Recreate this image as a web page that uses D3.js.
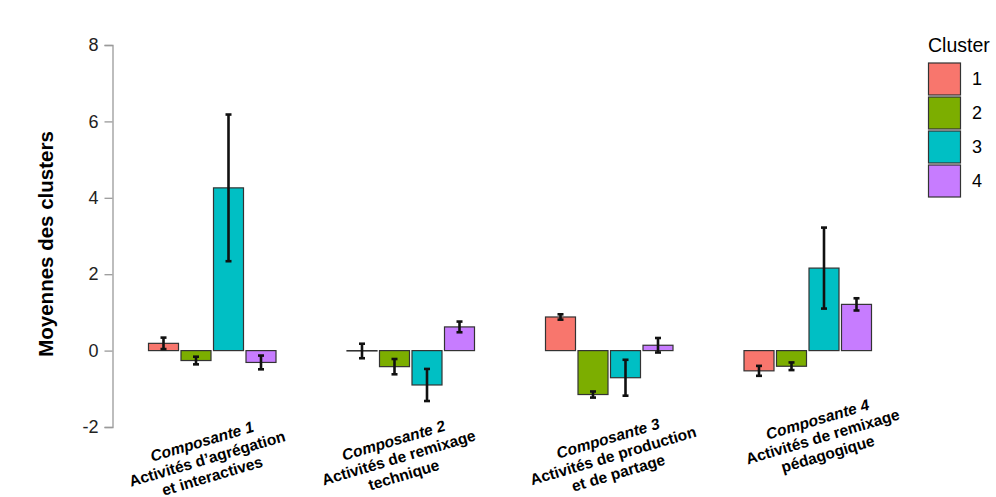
<!DOCTYPE html>
<html>
<head>
<meta charset="utf-8">
<script src="https://cdn.jsdelivr.net/npm/d3@7"></script>
<style>
  html, body { margin: 0; padding: 0; background: #fff; }
  svg { display: block; font-family: "Liberation Sans", Arial, Helvetica, sans-serif; }
</style>
</head>
<body>
<svg id="chart" width="996" height="497"></svg>
<script>
// Component labels: italic title line, then description lines
const componentTitles = ["Composante 1", "Composante 2", "Composante 3", "Composante 4"];
const componentDescriptions = [
  ["Activités d\u2019agrégation", "et interactives"],
  ["Activités de remixage", "technique"],
  ["Activités de production", "et de partage"],
  ["Activités de remixage", "pédagogique"]
];
const clusters = ["1", "2", "3", "4"];
const clusterColors = ["#F8766D", "#7CAE00", "#00BFC4", "#C77CFF"];

// Cluster means per component (rows: components, columns: clusters 1-4)
const means = [
  [0.19, -0.26, 4.26, -0.31],
  [-0.01, -0.42, -0.90, 0.62],
  [0.88, -1.15, -0.71, 0.14],
  [-0.53, -0.41, 2.16, 1.21]
];
// Half-width of the error bars
const errors = [
  [0.15, 0.10, 1.92, 0.18],
  [0.19, 0.20, 0.42, 0.14],
  [0.07, 0.08, 0.47, 0.19],
  [0.13, 0.10, 1.06, 0.16]
];
const yTicks = [-2, 0, 2, 4, 6, 8];
const yTitle = "Moyennes des clusters";
const legendTitle = "Cluster";

const svg = d3.select("#chart");

const x = d3.scaleBand().domain(componentTitles).range([113, 907]).padding(0);
const inner = d3.scaleBand().domain(clusters).range([-65, 65]).padding(0);
const barW = 30;
const y = d3.scaleLinear().domain([-2, 8]).range([427, 45]);

// Y axis
const yAxis = svg.append("g")
  .attr("transform", "translate(112.5,0)")
  .call(d3.axisLeft(y).tickValues(yTicks).tickSize(8).tickPadding(6).tickFormat(d3.format("d")));
yAxis.select(".domain").attr("stroke", "#9a9a9a").attr("stroke-width", 1.3);
yAxis.selectAll(".tick line").attr("stroke", "#9a9a9a").attr("stroke-width", 1.3);
yAxis.selectAll(".tick text").attr("fill", "#222").attr("font-size", 18)
  .text(d => d < 0 ? "-" + Math.abs(d) : d);

svg.append("text")
  .attr("transform", "translate(53,244) rotate(-90)")
  .attr("text-anchor", "middle")
  .attr("font-weight", "bold")
  .attr("font-size", 20.5)
  .attr("fill", "#000")
  .text(yTitle);

// Bars
const rows = [];
componentTitles.forEach((c, i) => {
  clusters.forEach((k, j) => {
    rows.push({ comp: c, cluster: k, j, mean: means[i][j], err: errors[i][j] });
  });
});

const cx = d => x(d.comp) + x.bandwidth() / 2 + inner(d.cluster) + inner.bandwidth() / 2;

svg.append("g").selectAll("rect").data(rows).join("rect")
  .attr("x", d => cx(d) - barW / 2)
  .attr("width", barW)
  .attr("y", d => y(Math.max(0, d.mean)))
  .attr("height", d => Math.abs(y(d.mean) - y(0)))
  .attr("fill", d => clusterColors[d.j])
  .attr("stroke", "#333")
  .attr("stroke-width", 1.2);

// Error bars
const eb = svg.append("g").attr("stroke", "#111").attr("stroke-width", 2.6).attr("fill", "none");
eb.selectAll("line.v").data(rows).join("line").attr("class", "v")
  .attr("x1", cx).attr("x2", cx)
  .attr("y1", d => y(d.mean + d.err)).attr("y2", d => y(d.mean - d.err));
eb.selectAll("line.t").data(rows).join("line").attr("class", "t")
  .attr("x1", d => cx(d) - 3).attr("x2", d => cx(d) + 3)
  .attr("y1", d => y(d.mean + d.err)).attr("y2", d => y(d.mean + d.err));
eb.selectAll("line.b").data(rows).join("line").attr("class", "b")
  .attr("x1", d => cx(d) - 3).attr("x2", d => cx(d) + 3)
  .attr("y1", d => y(d.mean - d.err)).attr("y2", d => y(d.mean - d.err));

// Rotated category labels
const labelShift = [[-5, 459], [-12, 458], [4, 456], [15, 437]];
componentTitles.forEach((c, i) => {
  const px = x(c) + x.bandwidth() / 2 + labelShift[i][0];
  const t = svg.append("text")
    .attr("transform", `translate(${px},${labelShift[i][1]}) rotate(-16.5)`)
    .attr("text-anchor", "middle")
    .attr("font-weight", "bold")
    .attr("font-size", 15.5)
    .attr("fill", "#000");
  t.append("tspan").attr("x", 0).attr("dy", -13).attr("font-style", "italic").text(c);
  componentDescriptions[i].forEach(line => {
    t.append("tspan").attr("x", 0).attr("dy", 18).text(line);
  });
});

// Legend
const lg = svg.append("g").attr("transform", "translate(928,0)");
lg.append("text").attr("x", 0).attr("y", 52).attr("font-size", 19.5).attr("fill", "#000").text(legendTitle);
clusters.forEach((k, j) => {
  lg.append("rect").attr("x", 0.5).attr("y", 63 + j * 34).attr("width", 32).attr("height", 32)
    .attr("fill", clusterColors[j]).attr("stroke", "#333").attr("stroke-width", 1.2);
  lg.append("text").attr("x", 44).attr("y", 79 + j * 34).attr("dy", "0.36em")
    .attr("font-size", 18).attr("fill", "#000").text(k);
});
</script>
</body>
</html>
